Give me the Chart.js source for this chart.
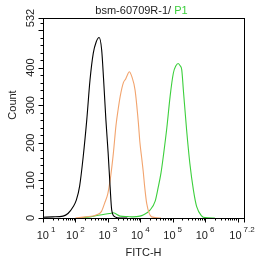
<!DOCTYPE html>
<html>
<head>
<meta charset="utf-8">
<script src="https://cdn.jsdelivr.net/npm/chart.js@4"></script>
<style>
  body { margin: 0; background: #fff; }
  canvas { display: block; }
</style>
</head>
<body>
<canvas id="histChart" width="258" height="261"></canvas>
<script>
// Histogram data (x = log10 of FITC-H, y = count)
const blackX  = [1.0, 1.3, 1.62, 1.77, 1.93, 2.03, 2.13, 2.24, 2.35, 2.45, 2.55, 2.64, 2.73, 2.81, 2.87, 2.94, 3.01, 3.07, 3.12, 3.22, 3.38, 3.6];
const blackY  = [2, 3, 5, 12, 30, 48, 85, 163, 261, 367, 438, 468, 480, 447, 367, 261, 172, 83, 21, 3, 0, 0];

const orangeX = [2.0, 2.33, 2.64, 2.8, 2.9, 3.0, 3.07, 3.17, 3.25, 3.32, 3.38, 3.48, 3.55, 3.6, 3.66, 3.74, 3.84, 3.94, 3.99, 4.04, 4.09, 4.14, 4.2, 4.35, 4.64];
const orangeY = [0, 3, 8, 17, 39, 65, 100, 172, 245, 290, 323, 360, 370, 380, 389, 376, 340, 255, 200, 163, 125, 80, 38, 3, 0];

const greenX  = [2.13, 2.45, 2.76, 3.06, 3.17, 3.38, 3.6, 3.78, 3.99, 4.09, 4.3, 4.46, 4.55, 4.64, 4.72, 4.82, 4.92, 5.02, 5.1, 5.17, 5.23, 5.28, 5.33, 5.43, 5.53, 5.64, 5.74, 5.9, 6.0, 6.3];
const greenY  = [0, 3, 8, 12, 14, 5, 4, 3, 5, 8, 21, 45, 80, 120, 170, 240, 323, 385, 405, 411, 405, 394, 340, 234, 145, 74, 30, 5, 1, 0];

// Axis ticks
const xMajor = [1, 2, 3, 4, 5, 6, 7, 7.2];
const xLabels = ['1', '2', '3', '4', '5', '6', '7.2'];
const xLabelPos = [1, 2, 3, 4, 5, 6, 7.2];
const yLabels = [0, 100, 200, 300, 400, 532];

const FONT = "'Liberation Sans', Arial, sans-serif";

const toPoints = (xs, ys) => xs.map((x, i) => ({ x: x, y: ys[i] }));

// Draws frame, ticks, labels and titles from the chart's scales
const axesPlugin = {
    id: 'axesPlugin',
    afterDraw(chart) {
        const { ctx, chartArea: a, scales: { x, y } } = chart;
        const L = Math.round(a.left), T = Math.round(a.top);
        const R = Math.round(a.right), B = Math.round(a.bottom);
        ctx.save();
        ctx.strokeStyle = '#000';
        ctx.lineWidth = 1;
        ctx.strokeRect(L + 0.5, T + 0.5, R - L, B - T);

        // y ticks: minor every 20, major every 100 and top
        ctx.beginPath();
        for (let v = 0; v <= 532; v += 20) {
            const py = Math.round(y.getPixelForValue(v)) + 0.5;
            const len = v % 100 === 0 ? 5 : 3;
            ctx.moveTo(L + 0.5, py);
            ctx.lineTo(L + 0.5 - len, py);
        }
        const pTop = Math.round(y.getPixelForValue(532)) + 0.5;
        ctx.moveTo(L + 0.5, pTop);
        ctx.lineTo(L + 0.5 - 5, pTop);
        ctx.stroke();

        // x ticks: decades plus log minor ticks
        ctx.beginPath();
        xMajor.forEach(e => {
            const px = Math.round(x.getPixelForValue(e)) + 0.5;
            ctx.moveTo(px, B + 0.5);
            ctx.lineTo(px, B + 0.5 + 4);
        });
        for (let d = 1; d < 8; d++) {
            for (let k = 2; k < 10; k++) {
                const e = d + Math.log10(k);
                if (e >= 7.2) continue;
                const px = Math.round(x.getPixelForValue(e)) + 0.5;
                ctx.moveTo(px, B + 0.5);
                ctx.lineTo(px, B + 0.5 + 2);
            }
        }
        ctx.stroke();

        // y labels (rotated)
        ctx.fillStyle = '#222';
        ctx.font = '11px ' + FONT;
        ctx.textAlign = 'center';
        ctx.textBaseline = 'alphabetic';
        yLabels.forEach(v => {
            const py = y.getPixelForValue(v);
            ctx.save();
            ctx.translate(34, py);
            ctx.rotate(-Math.PI / 2);
            ctx.fillText(String(v), 0, 0);
            ctx.restore();
        });

        // y title
        ctx.save();
        ctx.translate(15.5, 105);
        ctx.rotate(-Math.PI / 2);
        ctx.fillText('Count', 0, 0);
        ctx.restore();

        // x labels: 10 with superscript exponent
        xLabelPos.forEach((e, i) => {
            const px = x.getPixelForValue(e);
            ctx.font = '11px ' + FONT;
            const wb = ctx.measureText('10').width;
            ctx.font = '8px ' + FONT;
            const we = ctx.measureText(xLabels[i]).width;
            const gap = 2;
            let left = px - (wb + gap + we) / 2;
            if (i === 0) left += 3;
            if (i === xLabels.length - 1) left -= 2;
            ctx.textAlign = 'left';
            ctx.font = '11px ' + FONT;
            ctx.fillText('10', left, 238.5);
            ctx.font = '8px ' + FONT;
            ctx.fillText(xLabels[i], left + wb + gap, 232);
        });

        // x title
        ctx.font = '11px ' + FONT;
        ctx.textAlign = 'center';
        ctx.fillText('FITC-H', (a.left + a.right) / 2, 255.5);

        // chart title, two colours
        const t1 = 'bsm-60709R-1/ ', t2 = 'P1';
        const w1 = ctx.measureText(t1).width, w2 = ctx.measureText(t2).width;
        const tx = 141.5 - (w1 + w2) / 2;
        ctx.textAlign = 'left';
        ctx.fillStyle = '#222';
        ctx.fillText(t1, tx, 13.5);
        ctx.fillStyle = '#3ccf3c';
        ctx.fillText(t2, tx + w1, 13.5);
        ctx.restore();
    }
};

const lineStyle = {
    borderWidth: 1.1,
    pointRadius: 0,
    fill: false,
    cubicInterpolationMode: 'monotone'
};

new Chart(document.getElementById('histChart'), {
    type: 'line',
    data: {
        datasets: [
            { label: 'Control', data: toPoints(blackX, blackY), borderColor: '#000000', ...lineStyle },
            { label: 'Isotype', data: toPoints(orangeX, orangeY), borderColor: '#f2a46e', ...lineStyle },
            { label: 'P1', data: toPoints(greenX, greenY), borderColor: '#3ccf3c', ...lineStyle }
        ]
    },
    options: {
        responsive: false,
        animation: false,
        devicePixelRatio: 1,
        layout: { padding: { left: 43, top: 18, right: 14, bottom: 43 } },
        plugins: {
            legend: { display: false },
            tooltip: { enabled: false }
        },
        scales: {
            x: { type: 'linear', min: 1, max: 7.2, display: false },
            y: { type: 'linear', min: 0, max: 532, display: false }
        }
    },
    plugins: [axesPlugin]
});
</script>
</body>
</html>
